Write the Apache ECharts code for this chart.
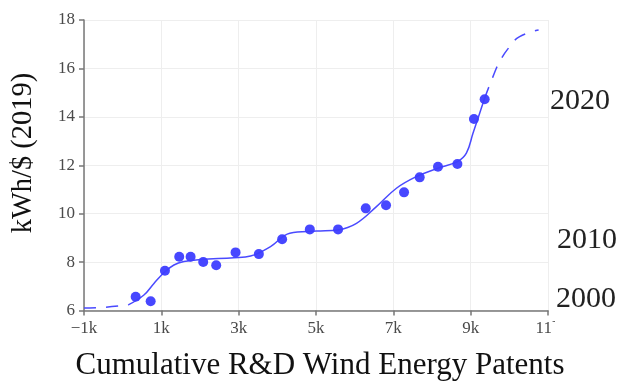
<!DOCTYPE html>
<html>
<head>
<meta charset="utf-8">
<script src="https://cdn.jsdelivr.net/npm/echarts@6/dist/echarts.min.js"></script>
<style>html,body{margin:0;padding:0;background:#fff}#c{width:619px;height:383px}</style>
</head>
<body>
<div id="c"></div>
<script>
// Observed data points
const patents = [336, 724, 1093, 1463, 1757, 2083, 2419, 2920, 3522, 4124, 4840, 5571, 6287, 6811, 7277, 7682, 8155, 8657, 9085, 9362];
const kwhPerDollar = [6.57, 6.38, 7.64, 8.22, 8.22, 8.00, 7.87, 8.40, 8.33, 8.94, 9.35, 9.35, 10.22, 10.35, 10.88, 11.50, 11.94, 12.05, 13.91, 14.73];
// Fitted curve (solid, within data range)
const fitX = [145, 550, 809, 1093, 1326, 1584, 2015, 2876, 3308, 3824, 4323, 5013, 5571, 6047, 6563, 7080, 7597, 8155, 8657, 8889, 9060, 9233, 9362];
const fitY = [6.23, 6.64, 7.12, 7.60, 7.88, 8.02, 8.11, 8.18, 8.25, 8.64, 9.19, 9.28, 9.33, 9.60, 10.29, 11.05, 11.53, 11.88, 12.15, 12.50, 13.32, 14.15, 14.77];
// Extrapolated curve (dashed)
const lowX = [-1000, -500, 145];
const lowY = [6.10, 6.13, 6.23];
const highX = [9362, 9577, 9750, 10008, 10266, 10757];
const highY = [14.77, 15.66, 16.28, 16.90, 17.31, 17.59];
// Axis ticks
const xTicks = [-1000, 1000, 3000, 5000, 7000, 9000, 11000];
const yTicks = [6, 8, 10, 12, 14, 16, 18];
// Year annotations: label and the kWh/$ level it sits at
const yearLabels = ['2020', '2010', '2000'];
const yearLevels = [14.66, 8.91, 6.48];

const zip = (a, b) => a.map((v, i) => [v, b[i]]);
const serif = '"Liberation Serif", "Times New Roman", serif';
const blue = '#4a4aff';

const chart = echarts.init(document.getElementById('c'), null, {renderer: 'canvas'});
const gridL = 84, gridR = 71, gridT = 20, gridB = 72.5;
const plotH = 383 - gridT - gridB;
const yMin = yTicks[0], yMax = yTicks[yTicks.length - 1];
const yPix = v => gridT + (yMax - v) / (yMax - yMin) * plotH;
const yearLeft = [550, 557, 556];

chart.setOption({
  animation: false,
  grid: {left: gridL, right: gridR, top: gridT, bottom: gridB},
  xAxis: {
    type: 'value', min: xTicks[0], max: xTicks[xTicks.length - 1], interval: 2000,
    axisLine: {show: true, onZero: false, lineStyle: {color: '#777', width: 1.5}},
    axisTick: {show: true, length: 5, lineStyle: {color: '#777', width: 1.5}},
    splitLine: {show: true, lineStyle: {color: '#eeeeee', width: 1}},
    axisLabel: {
      fontFamily: serif, fontSize: 17, color: '#4a4a4a', margin: 10,
      formatter: v => (v < 0 ? '\u2212' : '') + Math.abs(v / 1000) + 'k'
    }
  },
  yAxis: {
    type: 'value', min: yMin, max: yMax, interval: 2,
    axisLine: {show: true, onZero: false, lineStyle: {color: '#777', width: 1.5}},
    axisTick: {show: true, length: 5, lineStyle: {color: '#777', width: 1.5}},
    splitLine: {show: true, lineStyle: {color: '#eeeeee', width: 1}},
    axisLabel: {fontFamily: serif, fontSize: 17, color: '#4a4a4a', margin: 9}
  },
  series: [
    {type: 'line', data: zip(lowX, lowY), smooth: true, showSymbol: false,
     lineStyle: {color: blue, width: 1.5, type: [12, 10]}, z: 2},
    {type: 'line', data: zip(fitX, fitY), smooth: 0.4, showSymbol: false,
     lineStyle: {color: blue, width: 1.5}, z: 2},
    {type: 'line', data: zip(highX, highY), smooth: true, showSymbol: false,
     lineStyle: {color: blue, width: 1.5, type: [12, 10]}, z: 2},
    {type: 'scatter', data: zip(patents, kwhPerDollar), symbolSize: 10,
     itemStyle: {color: '#3d3dff', opacity: 0.95}, z: 3}
  ],
  graphic: [
    {type: 'rect', left: 552, top: 322, shape: {width: 30, height: 22}, style: {fill: '#fff'}, z: 100},
    {type: 'text', x: 24, y: 153, rotation: Math.PI / 2,
     style: {text: 'kWh/$ (2019)', font: '28.5px ' + serif, fill: '#111', align: 'center', verticalAlign: 'middle'}},
    {type: 'text', x: 320, y: 366,
     style: {text: 'Cumulative R&D Wind Energy Patents', font: '31px ' + serif, fill: '#111', align: 'center', verticalAlign: 'middle'}},
    ...yearLabels.map((t, i) => ({
      type: 'text', x: yearLeft[i], y: yPix(yearLevels[i]),
      style: {text: t, font: '30px ' + serif, fill: '#222', align: 'left', verticalAlign: 'middle'}
    }))
  ]
});
</script>
</body>
</html>
